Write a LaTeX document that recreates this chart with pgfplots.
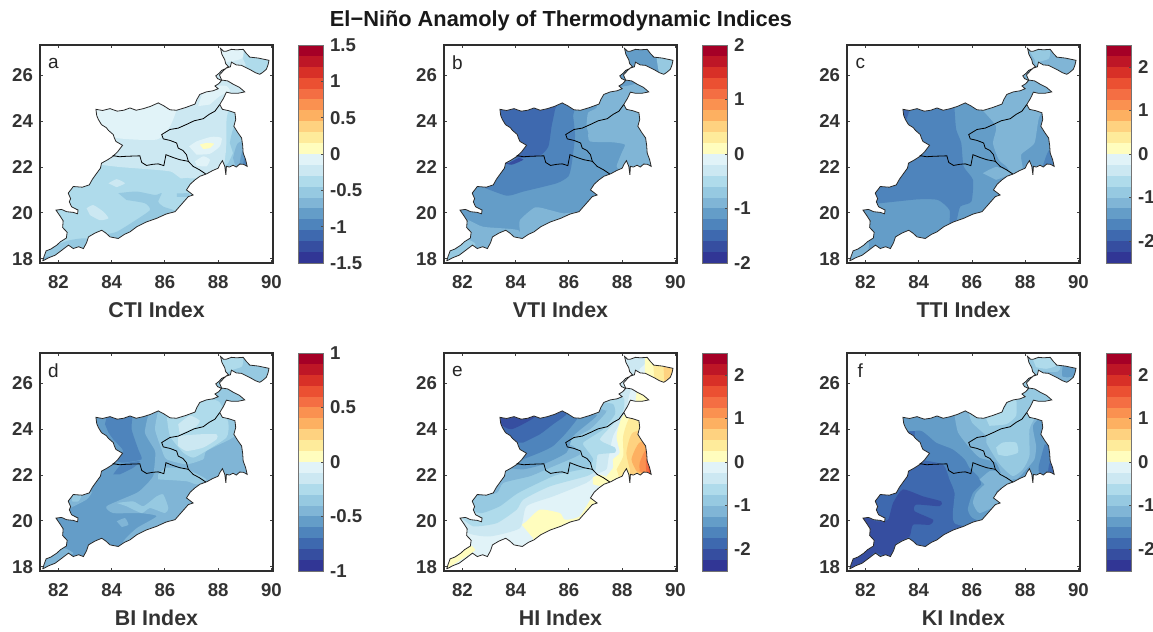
\documentclass[border=0pt]{standalone}
\usepackage{pgfplots}
\pgfplotsset{compat=1.18}
\usepackage{fontspec}
\setmainfont{Liberation Sans}
\definecolor{c1}{RGB}{49,54,149}
\definecolor{c2}{RGB}{54,78,160}
\definecolor{c3}{RGB}{62,105,175}
\definecolor{c4}{RGB}{78,132,188}
\definecolor{c5}{RGB}{100,157,200}
\definecolor{c6}{RGB}{128,181,214}
\definecolor{c7}{RGB}{150,201,225}
\definecolor{c8}{RGB}{175,219,235}
\definecolor{c9}{RGB}{204,232,242}
\definecolor{c10}{RGB}{225,243,248}
\definecolor{c11}{RGB}{255,253,190}
\definecolor{c12}{RGB}{254,235,155}
\definecolor{c13}{RGB}{254,210,128}
\definecolor{c14}{RGB}{253,176,97}
\definecolor{c15}{RGB}{250,145,80}
\definecolor{c16}{RGB}{244,110,67}
\definecolor{c17}{RGB}{235,80,50}
\definecolor{c18}{RGB}{216,48,39}
\definecolor{c19}{RGB}{190,22,38}
\definecolor{c20}{RGB}{165,0,38}
\definecolor{ln}{RGB}{40,40,40}
\newcommand{\outlinepts}{(81.41,17.90)(81.47,18.12)(81.54,18.34)(81.72,18.42)(81.94,18.59)(82.08,18.74)(82.30,18.90)(82.33,19.15)(82.16,19.36)(82.18,19.65)(82.07,19.85)(81.91,20.12)(82.12,20.15)(82.31,20.05)(82.56,20.02)(82.72,19.96)(82.74,20.12)(82.50,20.26)(82.41,20.48)(82.46,20.62)(82.37,20.86)(82.56,21.15)(82.90,21.12)(83.16,21.22)(83.28,21.47)(83.44,21.73)(83.58,21.95)(83.62,22.17)(83.84,22.31)(84.04,22.46)(84.22,22.66)(84.41,22.95)(84.16,23.12)(84.10,23.28)(84.06,23.42)(83.88,23.60)(83.80,23.72)(83.62,23.85)(83.50,24.08)(83.44,24.25)(83.41,24.52)(83.66,24.47)(83.94,24.55)(84.21,24.44)(84.45,24.48)(84.69,24.58)(84.92,24.48)(85.19,24.55)(85.46,24.65)(85.75,24.80)(85.95,24.68)(86.19,24.50)(86.44,24.48)(86.78,24.60)(87.13,24.75)(87.20,24.95)(87.31,25.17)(87.55,25.28)(87.81,25.33)(88.00,25.42)(87.88,25.54)(88.02,25.64)(88.13,25.78)(87.98,25.86)(87.91,25.98)(88.04,26.10)(88.13,26.22)(88.28,26.30)(88.38,26.39)(88.28,26.52)(88.25,26.68)(88.14,26.92)(88.09,27.18)(88.20,27.06)(88.31,27.06)(88.50,27.14)(88.69,27.12)(88.94,27.14)(89.06,26.96)(89.19,26.80)(89.50,26.76)(89.91,26.66)(89.87,26.45)(89.81,26.27)(89.66,26.12)(89.56,26.05)(89.40,26.12)(89.25,26.22)(89.05,26.34)(88.88,26.44)(88.68,26.46)(88.50,26.58)(88.46,26.38)(88.30,26.32)(88.19,26.20)(88.05,26.02)(88.13,25.80)(88.36,25.76)(88.56,25.62)(88.80,25.48)(89.00,25.28)(88.74,25.22)(88.50,25.22)(88.31,25.27)(88.20,25.00)(88.06,24.73)(88.16,24.52)(88.40,24.46)(88.63,24.37)(88.66,24.08)(88.59,23.78)(88.74,23.50)(88.88,23.27)(88.92,22.95)(88.94,22.61)(89.03,22.33)(89.09,22.03)(88.95,22.12)(88.81,22.13)(88.68,22.00)(88.56,22.08)(88.42,22.00)(88.31,22.03)(88.29,21.66)(88.25,22.03)(88.16,22.28)(88.06,22.10)(88.00,21.95)(87.80,21.85)(87.56,21.70)(87.32,21.60)(87.13,21.44)(86.95,21.25)(86.81,21.00)(87.06,20.78)(86.88,20.71)(86.66,20.42)(86.38,20.05)(86.05,19.95)(85.69,19.76)(85.30,19.60)(84.94,19.39)(84.69,19.17)(84.48,19.06)(84.25,18.88)(83.94,18.95)(83.78,19.12)(83.63,19.24)(83.38,19.12)(83.13,18.95)(83.06,18.70)(82.94,18.44)(82.76,18.52)(82.56,18.44)(82.38,18.59)(82.12,18.36)(81.88,18.15)(81.64,18.04)(81.41,17.90)}
\newcommand{\B}[2]{\addplot[fill=c#1,draw=none,forget plot,smooth,tension=0.35] coordinates {#2} -- cycle;}
\newcommand{\finish}[1]{%
  \edef\tmp{\noexpand\addplot[fill=white,draw=none,even odd rule,forget plot] coordinates {(81,17.5)(91,17.5)(91,27.6)(81,27.6)(81,17.5)\outlinepts(81,17.5)} -- cycle;}\tmp
  \edef\tmp{\noexpand\addplot[ln,line width=0.4pt,forget plot] coordinates {\outlinepts};}\tmp
  \addplot[black,line width=0.4pt,forget plot] coordinates {(88.06,24.73)(87.88,24.44)(87.66,24.30)(87.44,24.11)(87.10,24.02)(86.81,23.86)(86.50,23.70)(86.19,23.64)(85.88,23.42)(85.94,23.23)(86.20,23.16)(86.44,23.05)(86.50,22.83)(86.68,22.72)(86.81,22.54)(86.88,22.25)(87.06,22.03)(87.30,21.88)(87.53,21.70)};
  \addplot[black,line width=0.4pt,forget plot] coordinates {(84.04,22.50)(84.30,22.45)(84.56,22.47)(85.06,22.49)(85.13,22.20)(85.31,22.07)(85.55,22.12)(85.75,22.14)(85.96,22.06)(86.04,22.54)(86.30,22.42)(86.56,22.32)(86.88,22.25)};
  \node[font=\fontsize{9.5}{11}\selectfont,text=black!85] at (axis cs:81.81,26.54) {#1};
}
\pgfplotsset{
  mapax/.style={
    scale only axis,width=116.5pt,height=109pt,anchor=south west,
    xmin=81.31,xmax=90.06,ymin=17.81,ymax=27.33,
    xtick={82,84,86,88,90},xticklabels={82,84,86,88,90},
    ytick={18,20,22,24,26},yticklabels={18,20,22,24,26},
    tick align=inside,major tick length=1.5pt,
    tick style={color=black!75,line width=0.4pt},
    axis line style={color=black!82,line width=1pt},
    axis on top,
    tick label style={font=\fontsize{9.3}{10}\selectfont\bfseries,text=black!80},
    xticklabel style={yshift=-2.5pt},
    every axis x label/.style={at={(axis description cs:0.5,-0.215)},anchor=center,font=\fontsize{10.7}{12}\selectfont\bfseries,text=black!80},
  },
  cbax/.style={
    scale only axis,width=12.5pt,height=109pt,anchor=south west,
    xmin=0,xmax=1,xtick=\empty,
    ytick pos=right,yticklabel pos=right,tick align=inside,major tick length=1.2pt,
    tick style={color=black!70,line width=0.3pt},
    axis line style={color=black!55,line width=0.4pt},
    axis on top,
    tick label style={font=\fontsize{9.3}{10}\selectfont\bfseries,text=black!80},
  },
}
\newcommand{\cbarplots}[1]{%
  \pgfplotsforeachungrouped \i in {1,...,20}{%
    \pgfmathsetmacro\lo{(\i-11)*#1/10}\pgfmathsetmacro\hi{(\i-10)*#1/10}%
    \edef\tmp{\noexpand\addplot[fill=c\i,draw=none,forget plot] coordinates {(0,\lo)(1,\lo)(1,\hi)(0,\hi)} -- cycle;}\tmp}}
\begin{document}
\begin{tikzpicture}[x=1pt,y=1pt]
\useasboundingbox (0,0) rectangle (576.5,316);
\node[font=\fontsize{10.9}{12}\selectfont\bfseries,text=black!90] at (280.5,305.5) {El−Niño Anamoly of Thermodynamic Indices};

% ---------- a
\begin{axis}[mapax,at={(20pt,184.5pt)},xlabel={CTI Index}]
\B{8}{(81,17.5)(90.5,17.5)(90.5,27.5)(81,27.5)}
\B{9}{(83.31,25.10)(83.31,22.25)(83.62,22.10)(84.31,22.0)(85.31,21.91)(86.19,21.81)(86.94,21.51)(87.56,21.59)(88.19,21.95)(88.31,22.90)(88.44,23.64)(88.75,24.37)(89.19,25.25)(89.19,26.13)(88.94,26.71)(88.94,27.3)(87.94,27.3)(87.69,25.83)(85.94,25.10)}
\B{10}{(83.2,24.9)(83.2,23.8)(84.19,23.27)(85.69,23.20)(86.19,23.78)(86.44,24.52)(86.4,25)}
\B{10}{(87.25,24.66)(87.44,25.25)(87.94,25.54)(88.31,25.54)(88.44,25.32)(88.06,25.10)(87.69,24.73)}
\B{10}{(88,27.3)(88.9,27.3)(88.9,26.75)(88.4,26.6)(88.1,26.6)}
\B{10}{(86.91,22.90)(87.19,23.12)(87.75,23.32)(88.13,23.27)(88.06,22.90)(87.69,22.58)(87.19,22.54)}
\B{10}{(87.13,22.25)(87.44,22.47)(87.69,22.32)(87.56,22.03)(87.19,22.06)}
\B{11}{(87.31,22.98)(87.56,23.05)(87.84,23.02)(87.69,22.83)(87.44,22.79)}
\B{8}{(88.31,23.93)(88.44,24.52)(89.5,24.5)(89.5,21.5)(87.94,21.73)(88.25,22.25)(88.31,22.90)}
\B{8}{(89.06,27)(90.2,27)(90.2,26)(89,26)}
\B{7}{(88.44,23.05)(88.63,23.78)(89.5,23.8)(89.5,21.5)(88.19,21.88)(88.38,22.17)(88.56,22.61)}
\B{6}{(88.56,22.39)(88.75,23.05)(89.5,23.2)(89.5,21.5)(88.69,21.88)}
\B{5}{(88.81,22.17)(88.94,22.76)(89.5,22.7)(89.5,21.8)(88.9,21.9)}
\B{4}{(88.94,22.03)(89,22.39)(89.5,22.2)(89.5,21.8)}
\B{7}{(84.25,20.86)(84.94,20.93)(85.63,20.78)(85.88,20.86)(85.75,20.49)(85.94,20.27)(86.56,19.98)(85.75,19.39)(84.69,18.95)(84.25,18.66)(83.75,19.02)(84.19,19.17)(84.81,19.61)(85.44,20.12)(85.25,20.42)(84.56,20.56)}
\B{9}{(83.06,20.2)(83.31,20.34)(83.69,20.05)(83.88,19.76)(83.56,19.68)(83.19,19.90)}
\B{9}{(83.88,21.29)(84.19,21.47)(84.5,21.29)(84.19,21.12)}
\B{9}{(86.2,21.85)(86.6,21.95)(87.2,21.8)(87.2,21.6)(86.6,21.5)}
\B{7}{(86.45,20.85)(86.9,20.85)(86.9,20.7)(86.45,20.7)}
\B{7}{(81.2,17.8)(81.44,18.37)(82.06,18.66)(82.44,18.81)(83.06,18.88)(83,18.37)(82.31,18.37)(81.69,17.93)}
\B{6}{(81.2,17.8)(81.5,18.08)(81.75,18.08)(81.6,17.8)}
\finish{a}
\end{axis}
\begin{axis}[cbax,at={(149pt,184.5pt)},ymin=-1.5,ymax=1.5,ytick={-1.5,-1,-0.5,0,0.5,1,1.5},yticklabels={-1.5,-1,-0.5,0,0.5,1,1.5}]
\cbarplots{1.5}
\end{axis}

% ---------- b
\begin{axis}[mapax,at={(222pt,184.5pt)},xlabel={VTI Index}]
\B{5}{(81,17.5)(90.5,17.5)(90.5,27.5)(81,27.5)}
\B{4}{(82.6,21.2)(83.66,20.75)(84.29,20.93)(85.54,21.29)(85.98,21.59)(86.1,22.1)(86.23,23.34)(86.16,24.22)(86.1,24.95)(83,24.95)(83,21.2)}
\B{3}{(83,24.9)(85.48,24.9)(85.48,24.52)(85.35,23.78)(85.23,22.9)(84.91,22.5)(84.1,22.39)(83.5,22.39)(83,23.5)}
\B{2}{(83.73,22.17)(84.1,22.39)(84.29,22.32)(83.85,22.1)(83.5,22.2)}
\B{6}{(86.66,23.78)(86.72,24.37)(87.04,24.59)(87.16,25.25)(88.16,25.54)(89.3,25.54)(89.3,21.5)(87.98,21.88)(87.79,22.03)(87.98,22.61)(88.10,22.98)(87.66,23.08)(86.79,23.12)(86.73,23.49)}
\B{7}{(89.29,26.78)(90.1,26.78)(90.1,25.9)(89.5,25.9)(89.35,26.3)}
\B{6}{(84.16,19.24)(84.16,19.68)(84.73,20.24)(85.29,20.12)(85.79,19.98)(86.6,19.98)(85.5,18.5)(84.16,18.5)}
\B{6}{(81.66,19.83)(82.23,19.68)(82.79,19.39)(84.1,19.24)(84.2,18.6)(83,18)(81,17.5)(81,19.8)}
\B{7}{(81.2,17.7)(81.41,18.22)(82.16,18.81)(82.48,18.66)(82.41,18.37)(81.66,17.78)}
\finish{b}
\end{axis}
\begin{axis}[cbax,at={(351pt,184.5pt)},ymin=-2,ymax=2,ytick={-2,-1,0,1,2},yticklabels={-2,-1,0,1,2}]
\cbarplots{2}
\end{axis}

% ---------- c
\begin{axis}[mapax,at={(423.5pt,184.5pt)},xlabel={TTI Index}]
\B{5}{(81,17.5)(90.5,17.5)(90.5,27.5)(81,27.5)}
\B{4}{(85.35,24.8)(85.35,24.52)(85.41,23.64)(85.6,23.05)(85.69,22.03)(86.04,21.44)(85.98,20.49)(85.56,20.27)(85.41,19.61)(85.16,19.39)(85.16,20.12)(84.73,20.56)(83.98,20.59)(82.54,20.42)(82,20.42)(82,22)(83,24.8)}
\B{3}{(83.2,24.6)(83.66,24.6)(83.5,24)(83.2,24.1)}
\B{6}{(86.3,24.6)(86.91,23.78)(86.79,23.05)(87.01,22.32)(87.29,22.03)(87.54,21.66)(87.91,21.88)(87.85,22.54)(88.35,23.05)(88.54,24.22)(89.16,25.10)(90.3,26)(90.3,27.5)(87.5,27.5)(87.2,25.5)(86.4,24.8)}
\B{7}{(88.35,26.71)(88.1,27.3)(88.9,27.3)(88.9,26.75)(88.55,26.6)(88.4,26.45)}
\B{6}{(86.41,21.73)(86.91,22)(87.54,21.75)(86.91,21.44)}
\B{4}{(88.66,22.03)(88.91,22.76)(89.5,22.7)(89.5,21.8)(88.7,21.8)}
\B{6}{(81.2,17.7)(81.6,18.44)(82.1,18.73)(82.1,18.37)(81.73,18)}
\finish{c}
\end{axis}
\begin{axis}[cbax,at={(553pt,184.5pt)},ymin=-2.5,ymax=2.5,ytick={-2,-1,0,1,2},yticklabels={-2,-1,0,1,2}]
\cbarplots{2.5}
\end{axis}

% ---------- d
\begin{axis}[mapax,at={(20pt,30.5pt)},xlabel={BI Index}]
\B{5}{(81,17.5)(90.5,17.5)(90.5,27.5)(81,27.5)}
\B{6}{(85.44,24.9)(85.25,23.86)(85.63,23.05)(85.6,22.3)(85.56,21.95)(85.31,21.59)(84.94,21.22)(83.81,20.64)(84.06,20.34)(85.06,20.34)(85.69,20.2)(84.94,19.68)(84.44,19.1)(84.6,18.8)(87.5,19.5)(89.5,21.5)(90.5,27.5)(87,27.5)(87,25)}
\B{7}{(85.75,24.81)(85.63,24)(85.88,23.12)(86.06,22.69)(86.81,22.47)(87.44,22.69)(87.56,23.05)(88.44,23.56)(88.94,24)(89.5,25)(90.5,26)(90.5,27.5)(87.5,27.5)(86.8,25.2)}
\B{8}{(86.06,24.66)(86.19,23.71)(86.69,22.98)(87.06,22.76)(87.44,22.98)(88.31,23.64)(88.38,24.3)(88.06,25.17)(87.7,25.3)(87,25)(86.6,24.6)}
\B{9}{(86.5,23.71)(87.31,23.78)(87.94,23.78)(87.94,23.56)(87.44,23.2)(86.81,23.05)(86.5,23.27)}
\B{9}{(86.5,24.22)(86.94,24.59)(87.31,24.37)(87.13,24.08)(86.56,23.78)}
\B{8}{(88.19,27.22)(88.9,27.22)(88.9,26.75)(88.55,26.6)(88.3,26.5)(88.1,27)}
\B{4}{(83.75,24.22)(83.94,24.8)(84.75,24.8)(84.75,24)(85,23.12)(85.13,22.69)(84.63,22.57)(84.38,22.54)(84.06,22.69)(84.44,23.05)(84.06,23.56)(83.88,23.86)}
\B{4}{(84.06,22.03)(84.38,22.47)(85.06,22.61)(84.81,22.32)(84.31,22.03)}
\B{7}{(85.75,22.03)(86.06,22.32)(86.81,22.25)(87.56,21.81)(87.19,21.59)(86.81,21.73)(85.75,21.81)}
\B{7}{(84.19,20.78)(84.81,20.85)(85.19,20.64)(85.69,21.07)(85.94,21.15)(86.13,20.56)(86,20.34)(85.44,20.56)(85.13,20.34)(84.56,20.64)}
\B{6}{(84.19,19.98)(84.5,20.12)(84.63,19.83)(84.38,19.73)}
\B{6}{(82.2,20.6)(82.2,21.3)(82.56,21.29)(83.25,21.29)(83.06,20.93)(82.44,20.56)}
\B{7}{(82.56,21.22)(82.88,21.15)(82.75,20.85)(82.5,20.85)}
\B{6}{(81.2,17.7)(81.56,18.51)(82.19,18.81)(82.56,18.59)(82.31,18.44)(81.69,18)}
\finish{d}
\end{axis}
\begin{axis}[cbax,at={(149pt,30.5pt)},ymin=-1,ymax=1,ytick={-1,-0.5,0,0.5,1},yticklabels={-1,-0.5,0,0.5,1}]
\cbarplots{1}
\end{axis}

% ---------- e
\begin{axis}[mapax,at={(222pt,30.5pt)},xlabel={HI Index}]
\B{10}{(81,17.5)(90.5,17.5)(90.5,27.5)(81,27.5)}
\B{9}{(81.66,20.2)(82.23,19.46)(83.04,19.32)(84.16,19.68)(84.41,20.64)(85.41,21.07)(86.66,21.66)(87.04,22.03)(87.41,22.25)(87.48,22.69)(87.66,23.71)(88.1,24.66)(88.29,25.61)(88.54,26.2)(88.66,26.64)(88.85,26.86)(88.85,27.37)(88,27.5)(81,27.5)(81,20.2)}
\B{8}{(81.91,20.2)(82.41,19.76)(83.29,19.9)(84.04,20.49)(84.29,20.93)(85.29,21.51)(86.66,21.95)(86.98,22.17)(87.04,22.61)(87.1,22.9)(87.73,22.98)(87.73,23.2)(87.16,23.56)(87.79,24.37)(88.04,24.81)(88.04,25.39)(87,25.5)(81,27.5)(81,20.2)}
\B{7}{(82.16,20.49)(82.73,20.34)(83.41,20.64)(84.1,21.22)(85.41,21.95)(86.16,22.17)(86.73,22.32)(86.91,22.69)(86.66,23.12)(86.54,23.42)(87.29,24)(87.73,24.66)(87.66,25.1)(87.16,25.18)(86,25.5)(81,27.5)(81,20.5)}
\B{6}{(82.41,21.07)(83.29,21.22)(83.54,21.66)(84.54,21.95)(85.29,22.32)(86.41,22.9)(86.16,23.27)(85.91,23.42)(86.79,24)(87.29,24.59)(87.41,24.81)(87.04,24.95)(81,27.5)(81,21.1)}
\B{5}{(83.66,22.32)(84.29,22.25)(85.04,22.47)(85.91,22.98)(86.16,23.71)(87.04,24.59)(86.54,24.81)(81,27.5)(81,22.3)}
\B{4}{(84.1,22.61)(84.91,22.98)(85.41,23.27)(85.91,23.86)(86.41,24.66)(85.91,25.03)(81,27.5)(81,22.6)}
\B{3}{(84.29,23.42)(84.91,23.78)(85.41,24.22)(85.91,24.66)(85.73,25.1)(81,27.5)(81,23.4)}
\B{2}{(83.29,24.88)(83.35,24.3)(83.85,24)(84.79,24.59)(84.16,24.81)(84,25.2)(83,25.2)}
\B{11}{(87.41,21.95)(87.66,22.32)(87.66,22.69)(87.91,22.98)(87.79,23.71)(88.1,24.66)(89.5,24.66)(89.5,21.5)(88,21.6)(87.6,21.7)}
\B{12}{(87.79,22.25)(88.04,22.83)(88.04,23.71)(88.35,24.59)(89.5,24.6)(89.5,21.5)(88,21.5)}
\B{13}{(88.29,22.25)(88.16,22.98)(88.41,23.86)(89.5,23.9)(89.5,21.5)(88.3,21.5)}
\B{14}{(88.54,22.17)(88.35,22.69)(88.66,23.42)(89.5,23.5)(89.5,21.6)}
\B{15}{(88.66,22.17)(88.66,22.54)(88.91,23.12)(89.5,23.1)(89.5,21.6)}
\B{16}{(88.91,22.1)(88.91,22.69)(89.5,22.7)(89.5,21.6)(88.91,21.7)}
\B{17}{(89.01,22.1)(89.01,22.47)(89.5,22.4)(89.5,21.7)}
\B{11}{(88.85,27.4)(90.3,27.4)(90.3,25.8)(88.85,25.8)}
\B{12}{(89.16,27)(90.3,27)(90.3,25.8)(89.2,25.8)(89.2,26.3)}
\B{13}{(89.54,27)(90.3,27)(90.3,25.8)(89.6,25.8)}
\B{11}{(88.54,25.61)(88.66,25.61)(89.3,25.6)(89.3,25)(88.5,25.1)}
\B{11}{(84.23,19.83)(84.41,19.98)(84.91,20.49)(85.66,20.34)(85.85,20.05)(86.41,20.2)(86.98,21.22)(87.5,21.2)(87.2,20)(85,19)(84.6,18.85)(84.66,19.24)}
\B{11}{(81,17.6)(81.54,18.44)(82.23,18.95)(82.48,18.73)(82.23,18.51)(81.54,18)}
\B{11}{(86.9,21.9)(87.2,22)(87.6,21.8)(87.3,21.5)(86.9,21.6)}
\finish{e}
\end{axis}
\begin{axis}[cbax,at={(351pt,30.5pt)},ymin=-2.5,ymax=2.5,ytick={-2,-1,0,1,2},yticklabels={-2,-1,0,1,2}]
\cbarplots{2.5}
\end{axis}

% ---------- f
\begin{axis}[mapax,at={(423.5pt,30.5pt)},xlabel={KI Index}]
\B{3}{(81,17.5)(90.5,17.5)(90.5,27.5)(81,27.5)}
\B{2}{(81,17.5)(81,20.5)(81.91,20.2)(82.41,19.98)(82.85,20.05)(83.04,20.78)(83.41,21.37)(84.16,21.07)(84.85,20.85)(84.79,20.64)(83.91,20.71)(83.85,20.42)(84.54,20.05)(84.41,19.83)(83.79,19.83)(83.66,19.32)(83.16,19.02)(82.91,18.44)(82.29,18.59)(82,17.5)}
\B{4}{(83.91,22.69)(84.91,22.47)(85.16,21.81)(85.35,21.22)(85.29,20.34)(85.48,19.83)(88,19.83)(90.5,27.5)(83.7,27.5)}
\B{5}{(83.16,24.88)(83.29,23.93)(84.1,23.93)(84.66,23.42)(85.29,23.12)(85.73,22.69)(85.91,22.32)(86.23,21.95)(86.35,21.59)(86.04,21.22)(85.85,20.49)(86.16,20.05)(88,20)(90.5,27.5)(83.16,27.5)}
\B{6}{(85.35,24.59)(85.48,23.86)(85.91,23.2)(86.29,22.76)(86.91,22.54)(87.16,21.95)(87.66,21.81)(88.04,22.25)(88.35,22.69)(88.41,23.27)(88.29,24.15)(88.66,24.59)(89.5,25)(90.5,26.3)(89.4,26.3)(89.4,27.5)(87.5,27.5)(87,25)(85.4,25)}
\B{6}{(86.29,21.81)(86.66,22.17)(86.91,22.17)(87.54,21.78)(86.91,21.29)(87.04,20.78)(86.29,20.34)(86.04,20.78)(86.16,21.22)(86.48,21.59)}
\B{7}{(85.85,24.88)(86,24.3)(86.54,23.71)(86.54,23.42)(86.91,22.69)(87.16,22.32)(87.54,21.95)(87.91,22.25)(88.16,22.83)(88.16,24)(88.41,24.59)(88.66,25.17)(89.3,25.2)(89.3,25.8)(88.5,26)(88.5,26.5)(89.1,26.5)(89.3,26.6)(89.3,27.5)(87.8,27.5)(87.8,25.6)(86.9,25.2)(86,25)}
\B{8}{(86.54,24.44)(86.79,24.66)(87.16,24.81)(87.41,25.25)(87.66,25.32)(87.66,24.59)(87.29,24.22)(86.66,24.15)}
\B{8}{(86.91,23.2)(87.16,23.42)(87.66,23.42)(87.73,22.98)(87.29,22.83)(86.98,22.9)}
\B{8}{(88.23,27.22)(89.04,27.22)(89.16,26.78)(88.79,26.64)(88.41,26.71)}
\B{4}{(88.73,23.34)(89.04,23.27)(89.5,23.2)(89.5,21.7)(88.54,22.1)(88.54,22.54)}
\B{3}{(88.85,22.05)(88.95,22.6)(89.5,22.5)(89.5,21.8)}
\finish{f}
\end{axis}
\begin{axis}[cbax,at={(553pt,30.5pt)},ymin=-2.5,ymax=2.5,ytick={-2,-1,0,1,2},yticklabels={-2,-1,0,1,2}]
\cbarplots{2.5}
\end{axis}
\end{tikzpicture}
\end{document}
